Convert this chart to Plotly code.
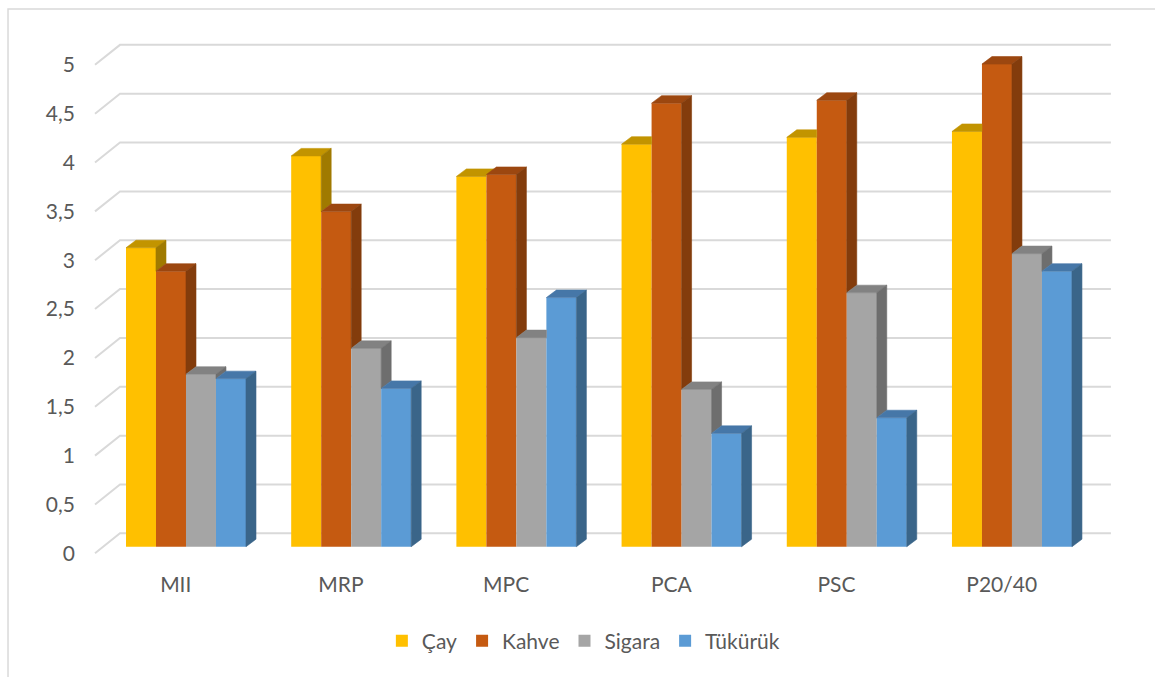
import plotly.graph_objects as go

# Data
categories = ["MII", "MRP", "MPC", "PCA", "PSC", "P20/40"]
series_names = ["Çay", "Kahve", "Sigara", "Tükürük"]
cay = [3.06, 4.00, 3.79, 4.12, 4.19, 4.25]
kahve = [2.82, 3.43, 3.81, 4.54, 4.57, 4.94]
sigara = [1.765, 2.03, 2.14, 1.61, 2.60, 3.00]
tukuruk = [1.72, 1.62, 2.55, 1.16, 1.32, 2.82]
y_ticks = [0, 0.5, 1, 1.5, 2, 2.5, 3, 3.5, 4, 4.5, 5]

series_values = [cay, kahve, sigara, tukuruk]

# Face colours: front, top, side
front_colors = ["#FFC000", "#C55A11", "#A5A5A5", "#5B9BD5"]
top_colors = ["#C29400", "#9C4710", "#828282", "#4677A8"]
side_colors = ["#A07A00", "#833C0C", "#6E6E6E", "#3A6589"]

# Pseudo-3D geometry (in data units)
BARGAP = 0.2736
GROUP_W = 1 - BARGAP
BAR_W = GROUP_W / len(series_values)
DX = 0.0605      # depth offset, horizontal
DY = 0.077       # depth offset, vertical
BACK_DY = 0.137  # back-wall gridline shift
FRONT_DY = -0.0676  # front edge shift
X_FRONT_L = -0.5508
X_BACK_L = -0.3995
X_BACK_R = 5.599

fig = go.Figure()

# Front faces as grouped bars
for name, vals, col in zip(series_names, series_values, front_colors):
    fig.add_trace(go.Bar(
        x=list(range(len(categories))), y=vals, name=name,
        marker=dict(color=col, line=dict(width=0)),
        hovertemplate="%{y}<extra>" + name + "</extra>",
    ))

# Top and side faces
n = len(series_values)
for k in range(n):
    tx, ty, sx, sy = [], [], [], []
    for i in range(len(categories)):
        v = series_values[k][i]
        x0 = i - GROUP_W / 2 + k * BAR_W
        x1 = x0 + BAR_W
        vn = series_values[k + 1][i] if k + 1 < n else None
        # top face
        if vn is None or vn < v:
            tx += [x0, x1, x1 + DX, x0 + DX, x0, None]
            ty += [v, v, v + DY, v + DY, v, None]
        elif vn >= v + DY:
            tx += [x0, x1, x1, x0 + DX, x0, None]
            ty += [v, v, v + DY, v + DY, v, None]
        else:
            xc = x1 + DX * (vn - v) / DY
            tx += [x0, x1, x1, xc, x1 + DX, x0 + DX, x0, None]
            ty += [v, v, vn, vn, v + DY, v + DY, v, None]
        # side face
        base = 0 if vn is None else vn
        if base < v:
            sx += [x1, x1, x1 + DX, x1 + DX, x1, None]
            sy += [base, v, v + DY, base + DY, base, None]
    fig.add_trace(go.Scatter(
        x=tx, y=ty, mode="lines", fill="toself", fillcolor=top_colors[k],
        line=dict(color=top_colors[k], width=0.6), showlegend=False,
        hoverinfo="skip"))
    fig.add_trace(go.Scatter(
        x=sx, y=sy, mode="lines", fill="toself", fillcolor=side_colors[k],
        line=dict(color=side_colors[k], width=0.6), showlegend=False,
        hoverinfo="skip"))

# Back-wall gridlines with their front edges
shapes = []
for t in y_ticks:
    shapes.append(dict(
        type="path", xref="x", yref="y", layer="below",
        path=f"M {X_FRONT_L},{t + FRONT_DY} L {X_BACK_L},{t + BACK_DY} L {X_BACK_R},{t + BACK_DY}",
        line=dict(color="#D9D9D9", width=2)))

# Chart-area border
shapes.append(dict(
    type="rect", xref="paper", yref="paper",
    x0=-0.0796, x1=1.2, y0=-0.4, y1=1.0396,
    line=dict(color="#D9D9D9", width=1.5), layer="below"))

font = dict(family="Lato, Calibri, sans-serif", size=21, color="#595959")

fig.update_layout(
    width=1155, height=677,
    margin=dict(l=90, r=35, t=30, b=117),
    paper_bgcolor="white", plot_bgcolor="white",
    barmode="group", bargap=BARGAP, bargroupgap=0,
    font=font,
    shapes=shapes,
    showlegend=True,
    legend=dict(orientation="h", x=0.479, xanchor="center",
                y=-0.153, yanchor="middle", font=font,
                traceorder="normal"),
    xaxis=dict(
        range=[-0.5811, 5.654], showgrid=False, zeroline=False,
        showline=False, ticks="",
        tickvals=[i - 0.062 for i in range(len(categories))],
        ticktext=categories, ticklabelstandoff=10, fixedrange=True),
    yaxis=dict(
        range=[-0.136, 5.289], showgrid=False, zeroline=False,
        showline=False, ticks="",
        tickvals=[t + FRONT_DY for t in y_ticks],
        ticktext=[f"{t:g}".replace(".", ",") for t in y_ticks],
        ticklabelstandoff=14, fixedrange=True),
)

fig.write_html("out.html")
